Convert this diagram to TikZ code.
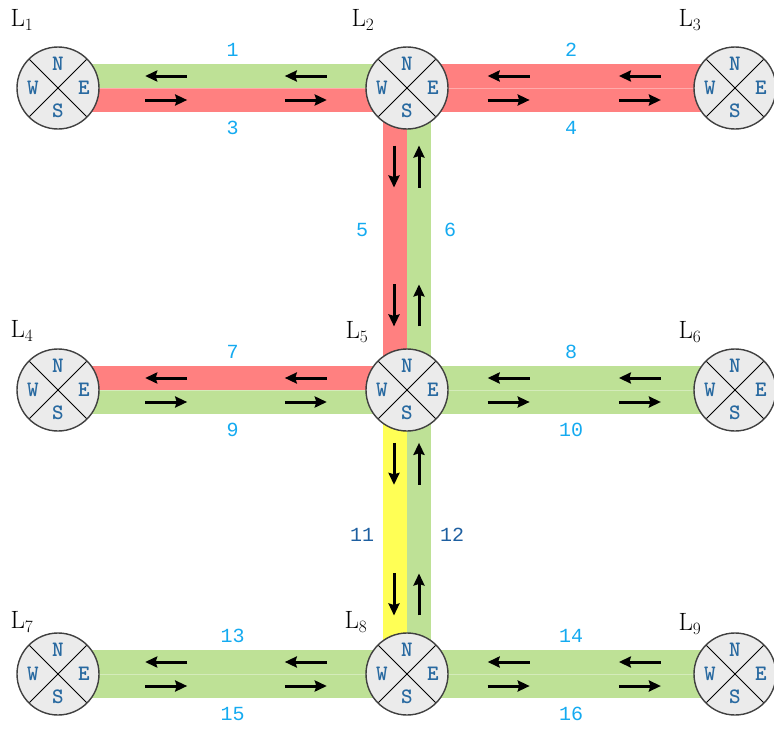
\documentclass[tikz,border=0pt]{standalone}
\usepackage{fontspec}
\usepackage{tikz}
\usetikzlibrary{arrows.meta,calc,backgrounds}
\newfontfamily\lanefont{Liberation Mono}

\definecolor{lanegreen}{RGB}{190,225,150}
\definecolor{lanered}{RGB}{255,128,128}
\definecolor{laneyellow}{RGB}{255,255,85}
\definecolor{numblue}{RGB}{20,170,240}
\definecolor{darkblue}{RGB}{30,95,160}
\definecolor{dirblue}{RGB}{40,105,160}

\begin{document}
\begin{tikzpicture}[x=1pt,y=-1pt,>={Stealth[length=12pt,width=11pt,inset=1.5pt]}]
        \tikzstyle{lane}=[line width=24pt]
        \tikzstyle{divider}=[line width=0.6pt,white,opacity=0.35]
        \tikzstyle{cross}=[circle,draw=black!75,line width=1.4pt,fill=black!8,minimum size=82pt,inner sep=0pt,
            path picture={\draw[line width=0.9pt,black] (path picture bounding box.north west) -- (path picture bounding box.south east)
                (path picture bounding box.north east) -- (path picture bounding box.south west);}]
        \tikzstyle{dir}=[text=dirblue,inner sep=0pt,font=\ttfamily\bfseries\fontsize{22}{22}\selectfont]
        \tikzstyle{num}=[text=numblue,inner sep=1pt,font=\lanefont\fontsize{20}{20}\selectfont]
        \tikzstyle{tag}=[inner sep=0pt,font=\fontsize{25}{25}\selectfont]
        \tikzstyle{flow}=[->,line width=3pt,black]
        \useasboundingbox (0,0) rectangle (774,736);

        % intersections
        \node[cross] (L1) at (58,88) {};
        \node[cross] (L2) at (407,88) {};
        \node[cross] (L3) at (735,88) {};
        \node[cross] (L4) at (58,390) {};
        \node[cross] (L5) at (407,390) {};
        \node[cross] (L6) at (735,390) {};
        \node[cross] (L7) at (58,674) {};
        \node[cross] (L8) at (407,674) {};
        \node[cross] (L9) at (735,674) {};
        \foreach \n in {1,...,9} {
            \node[dir] (N\n) at ([yshift=24pt]L\n.center) {N};
            \node[dir] (S\n) at ([yshift=-23pt]L\n.center) {S};
            \node[dir] (E\n) at ([xshift=26pt]L\n.center) {E};
            \node[dir] (W\n) at ([xshift=-25pt]L\n.center) {W};
        }

        % names
        \foreach \n/\x/\y in {1/22/20, 2/363/20, 3/690/20, 4/22/331, 5/357/332, 6/690/332, 7/22/622, 8/356/622, 9/690/624}
            \node[tag] (t\n) at (\x,\y) {$\mathrm{L}_{\n}$};

        % lanes
        \begin{scope}[on background layer]
        \foreach \a/\b/\up/\dn in {1/2/lanegreen/lanered, 2/3/lanered/lanered, 4/5/lanered/lanegreen,
                                   5/6/lanegreen/lanegreen, 7/8/lanegreen/lanegreen, 8/9/lanegreen/lanegreen} {
            \draw[lane,\up] ([yshift=12pt]L\a.center) -- ([yshift=12pt]L\b.center);
            \draw[lane,\dn] ([yshift=-12pt]L\a.center) -- ([yshift=-12pt]L\b.center);
            \draw[divider] (L\a.center) -- (L\b.center);
        }
        \foreach \a/\b/\lf/\rt in {2/5/lanered/lanegreen, 5/8/laneyellow/lanegreen} {
            \draw[lane,\lf] ([xshift=-12pt]L\a.center) -- ([xshift=-12pt]L\b.center);
            \draw[lane,\rt] ([xshift=12pt]L\a.center) -- ([xshift=12pt]L\b.center);
        }
        \end{scope}

        % driving directions
        \foreach \a/\b in {1/2,2/3,4/5,5/6,7/8,8/9}
            \foreach \f in {0.31,0.71} {
                \draw[flow] ($(L\a.center)!\f!(L\b.center)+(21,-12)$) -- ++(-42,0);
                \draw[flow] ($(L\a.center)!\f!(L\b.center)+(-21,12)$) -- ++(42,0);
            }
        \foreach \a/\b in {2/5,5/8}
            \foreach \f in {0.26,0.72} {
                \draw[flow] ($(L\a.center)!\f!(L\b.center)+(-13,-21)$) -- ++(0,42);
                \draw[flow] ($(L\a.center)!\f!(L\b.center)+(12,21)$) -- ++(0,-42);
            }

        % lane numbers
        \foreach \a/\b/\up/\dn in {1/2/1/3, 2/3/2/4, 4/5/7/9, 5/6/8/10, 7/8/13/15, 8/9/14/16} {
            \node[num] (n\up) at ($(L\a.center)!0.5!(L\b.center)+(0,-38)$) {\up};
            \node[num] (n\dn) at ($(L\a.center)!0.5!(L\b.center)+(0,40)$) {\dn};
        }
        \node[num] (n5) at ($(L2.center)!0.5!(L5.center)+(-45,-9)$) {5};
        \node[num] (n6) at ($(L2.center)!0.5!(L5.center)+(43,-9)$) {6};
        \node[num,text=darkblue] (n11) at ($(L5.center)!0.5!(L8.center)+(-45,3)$) {11};
        \node[num,text=darkblue] (n12) at ($(L5.center)!0.5!(L8.center)+(45,3)$) {12};
\end{tikzpicture}
\end{document}
